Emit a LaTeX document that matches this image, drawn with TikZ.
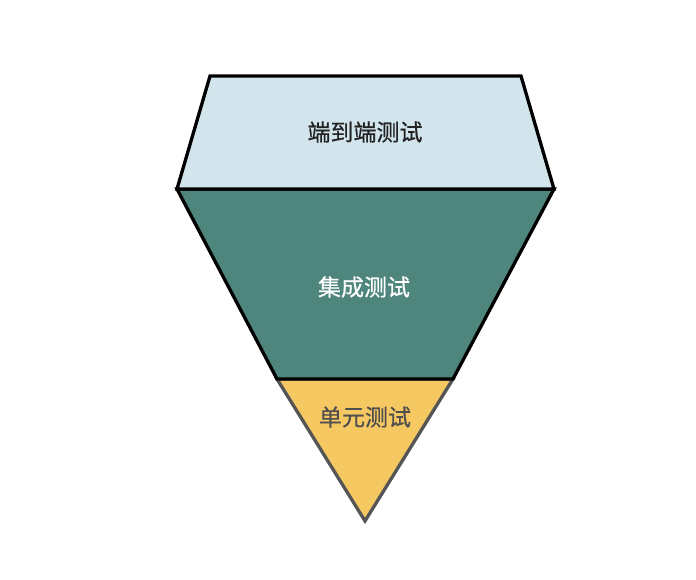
\documentclass[tikz,border=0pt]{standalone}
\usepackage{fontspec}
\newfontfamily\cjk[FakeBold=0.6]{Noto Sans CJK SC}
\definecolor{topfill}{HTML}{D2E4EC}
\definecolor{midfill}{HTML}{4E857D}
\definecolor{botfill}{HTML}{F6C862}
\definecolor{botline}{HTML}{555555}
\definecolor{txtdark}{HTML}{222222}
\tikzset{
  layer/.style={line width=3.3pt, line join=miter},
  lbl/.style={font=\cjk\fontsize{23}{26}\selectfont, inner sep=0pt}
}
\begin{document}
\begin{tikzpicture}[x=1pt,y=-1pt]
\useasboundingbox (0,0) rectangle (696,580);
% bottom triangle
\draw[layer, draw=botline, fill=botfill] (277,379) -- (453,379) -- (365,521) -- cycle;
% middle trapezoid
\draw[layer, draw=black, fill=midfill] (177,189) -- (554,189) -- (453,379) -- (277,379) -- cycle;
% top trapezoid
\draw[layer, draw=black, fill=topfill] (210,76) -- (521,76) -- (554,189) -- (177,189) -- cycle;
\node[lbl, text=txtdark] (e2e) at (365,132) {端到端测试};
\node[lbl, text=white] (integ) at (364,287) {集成测试};
\node[lbl, text=txtdark!80!white] (unit) at (365,417) {单元测试};
\end{tikzpicture}
\end{document}
